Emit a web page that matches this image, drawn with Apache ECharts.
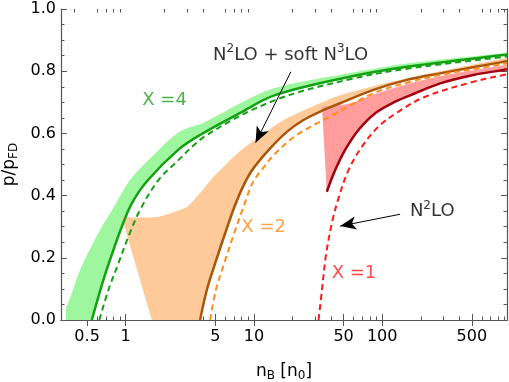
<!DOCTYPE html>
<html>
<head>
<meta charset="utf-8">
<title>p/pFD vs nB</title>
<script src="https://cdn.jsdelivr.net/npm/echarts@6/dist/echarts.min.js"></script>
<style>
html, body { margin: 0; padding: 0; background: #fff; }
#main { width: 509px; height: 382px; }
</style>
</head>
<body>
<div id="main"></div>
<script>
var font = 'DejaVu Sans';

// axis ticks (n_B in units of n_0, log scale)
var xMin = 0.313, xMax = 940;
var majorTicks = [0.5, 1, 5, 10, 50, 100, 500];
var minorTicks = [0.4, 0.6, 0.7, 0.8, 0.9, 2, 3, 4, 6, 7, 8, 9, 20, 30, 40, 60, 70, 80, 90,
                  200, 300, 400, 600, 700, 800, 900];

// X = 4 (green)
var greenSolid = [[0.544,0],[0.67,0.129],[0.802,0.225],[0.932,0.3],[1.116,0.375],[1.47,0.447],
  [2.563,0.547],[3.8,0.595],[7.81,0.666],[14.6,0.723],[56,0.782],[156,0.814],[879,0.852],[940,0.854]];
var greenDash = [[0.623,0],[0.733,0.0965],[0.877,0.182],[1.05,0.268],[1.295,0.354],[1.8,0.45],
  [2.43,0.504],[4.29,0.595],[14.6,0.707],[56,0.774],[156,0.808],[879,0.846],[940,0.848]];
var greenTop = [[0.341,0],[0.341,0.0386],[0.368,0.0707],[0.441,0.161],[0.631,0.289],[0.827,0.37],
  [1.082,0.45],[1.598,0.525],[2.6,0.604],[4.16,0.637],[7.81,0.697],[14.6,0.746],[56,0.794],[156,0.825],
  [879,0.858],[940,0.86]];

// X = 2 (orange)
var orangeSolid = [[3.8,0],[4.29,0.0965],[4.98,0.182],[5.96,0.279],[7.13,0.37],[8.39,0.437],[9.91,0.488],
  [13.38,0.552],[18.06,0.605],[24.3,0.643],[32.8,0.67],[47,0.697],[85.5,0.74],[156,0.772],[283,0.793],
  [879,0.83],[940,0.832]];
var orangeDash = [[4.55,0],[5.05,0.0965],[5.86,0.182],[7.01,0.279],[8.39,0.37],[9.73,0.44],[11.18,0.477],
  [15.1,0.541],[21.6,0.595],[32.8,0.638],[47,0.672],[85.5,0.729],[156,0.763],[283,0.788],[879,0.823],[940,0.825]];
var orangeTop = [[1.598,0],[0.932,0.33],[1.295,0.3296],[1.855,0.333],[2.428,0.349],[2.997,0.363],
  [3.8,0.408],[4.55,0.447],[5.45,0.482],[7.36,0.534],[9.91,0.576],[13.38,0.614],[18.06,0.6485],
  [32.8,0.697],[47,0.723],[85.1,0.752],[156,0.777],[283,0.8],[879,0.841],[940,0.844]];

// X = 1 (red)
var redSolid = [[37,0.4125],[43,0.482],[51.4,0.547],[65.3,0.611],[88.2,0.665],[126.3,0.702],[180.9,0.729],
  [283.5,0.761],[515,0.788],[884,0.804],[940,0.806]];
var redDash = [[31.9,0],[33.9,0.0965],[36.3,0.2035],[40.5,0.311],[45.6,0.391],[54.6,0.482],[69.4,0.557],
  [93.6,0.622],[134,0.67],[216.5,0.718],[515,0.766],[879,0.788],[940,0.79]];
var redTop = [[33.9,0.686],[54.6,0.695],[85.5,0.725],[156,0.758],[283,0.784],[879,0.818],[940,0.82]];

// annotations: [n, p, text, colour]
var notes = [
  [2.01, 0.706, '{t|X =4}', '#1ea01e'],
  [19.3, 0.852, '{t|N}{sup|2}{t|LO + soft N}{sup|3}{t|LO}', '#000'],
  [11.9, 0.299, '{t|X =2}', '#ff8c1a'],
  [60.2, 0.1495, '{t|X =1}', '#ff2020'],
  [245.5, 0.349, '{t|N}{sup|2}{t|LO}', '#000']
];
var arrows = [
  [[19.4, 0.798], [10.3, 0.57]],
  [[138, 0.34], [47, 0.302]]
];

var axisColor = '#555';
var SMOOTH = 0.35;

// filled region between an upper edge and a lower edge; edge ends (and listed
// indices of the upper edge) stay sharp, the rest is smoothed
function band(upper, lower, color, sharp) {
  return {
    type: 'custom', xAxisIndex: 0, yAxisIndex: 0, data: [0], silent: true, z: 1,
    renderItem: function (params, api) {
      var pts = [];
      function add(list, corners) {
        list.forEach(function (d, i) {
          var c = api.coord(d);
          pts.push(c);
          if (i === 0 || i === list.length - 1 || corners.indexOf(i) >= 0) pts.push([c[0], c[1]]);
        });
      }
      add(upper, sharp || []);
      add(lower.slice().reverse(), []);
      return {
        type: 'polygon',
        shape: { points: pts, smooth: SMOOTH },
        style: { fill: color }
      };
    }
  };
}
function curve(data, color, width, dashed) {
  return {
    type: 'line', xAxisIndex: 0, yAxisIndex: 0, data: data, showSymbol: false, silent: true,
    smooth: SMOOTH, z: 3,
    lineStyle: { color: color, width: width, type: dashed ? [6, 4] : 'solid' }
  };
}
function xAx(grid, pos, ticks, len, labels) {
  return {
    type: 'log', gridIndex: grid, position: pos, min: xMin, max: xMax,
    axisLine: { show: grid === 0, lineStyle: { color: axisColor, width: 1.2 } },
    axisTick: { inside: true, length: len, customValues: ticks, lineStyle: { color: axisColor } },
    axisLabel: {
      show: labels, customValues: ticks, fontSize: 16, fontFamily: font, color: '#000', margin: 9,
      formatter: function (v) { return String(parseFloat((+v).toPrecision(6))); }
    },
    splitLine: { show: false }, minorTick: { show: false }
  };
}
function yAx(pos, labels) {
  return {
    type: 'value', gridIndex: 0, position: pos, min: 0, max: 1, interval: 0.2,
    axisLine: { show: true, lineStyle: { color: axisColor, width: 1.2 } },
    axisTick: { inside: true, length: 6, lineStyle: { color: axisColor } },
    minorTick: { show: true, splitNumber: 4, length: 3.5, lineStyle: { color: axisColor } },
    axisLabel: {
      show: labels, fontSize: 16, fontFamily: font, color: '#000', margin: 5,
      formatter: function (v) { return v.toFixed(1); }
    },
    splitLine: { show: false }
  };
}

var xMain = xAx(0, 'bottom', majorTicks, 6, true);
xMain.name = '{n|n}{sub|B}{n| [n}{sub|0}{n|]}';
xMain.nameLocation = 'middle';
xMain.nameGap = 41;
xMain.nameTextStyle = {
  rich: {
    n: { fontSize: 17, fontFamily: font, color: '#000' },
    sub: { fontSize: 12, fontFamily: font, color: '#000', padding: [9, 0, 0, 0] }
  }
};
var yMain = yAx('left', true);
yMain.name = '{n|p/p}{sub|FD}';
yMain.nameLocation = 'middle';
yMain.nameRotate = 90;
yMain.nameGap = 40;
yMain.nameTextStyle = xMain.nameTextStyle;

var noteRich = {
  t: { fontSize: 18, fontFamily: font },
  sup: { fontSize: 12, fontFamily: font, padding: [0, 0, 12, 0] }
};

var option = {
  animation: false,
  backgroundColor: '#fff',
  grid: [
    { left: 61, right: 2, top: 9, bottom: 62, outerBoundsMode: 'none', containLabel: false },
    { left: 61, right: 2, top: 9, bottom: 62, outerBoundsMode: 'none', containLabel: false }
  ],
  xAxis: [
    xMain,
    xAx(0, 'top', majorTicks, 6, false),
    xAx(1, 'bottom', minorTicks, 3.5, false),
    xAx(1, 'top', minorTicks, 3.5, false)
  ],
  yAxis: [
    yMain,
    yAx('right', false),
    { type: 'value', gridIndex: 1, min: 0, max: 1, show: false }
  ],
  series: [
    band(greenTop, greenSolid, '#9ef79e', [1]),
    band(orangeTop, orangeSolid, '#ffca99', [1]),
    band(redTop, redSolid, '#ff9c9c', []),
    curve(greenSolid, '#14a014', 2.5, false),
    curve(greenDash, '#14a014', 2, true),
    curve(orangeSolid, '#a8560c', 2.5, false),
    curve(orangeDash, '#ff8c1a', 2, true),
    curve(redSolid, '#a00010', 2.5, false),
    curve(redDash, '#ff1a1a', 2, true),
    {
      type: 'scatter', xAxisIndex: 0, yAxisIndex: 0, symbolSize: 0, silent: true, z: 5,
      data: notes.map(function (a) {
        return {
          value: [a[0], a[1]],
          label: {
            show: true, position: [0, 0], align: 'center', verticalAlign: 'middle',
            formatter: a[2], color: a[3], rich: noteRich
          }
        };
      }),
      markLine: {
        silent: true, symbol: ['none', 'arrow'], symbolSize: 14,
        lineStyle: { color: '#000', width: 1, type: 'solid', opacity: 1 },
        label: { show: false },
        data: arrows.map(function (a) {
          return [
            { coord: a[0], symbol: 'none' },
            { coord: a[1], symbol: 'arrow', symbolSize: [10, 16], itemStyle: { color: '#000' } }
          ];
        })
      }
    }
  ]
};

var chart = echarts.init(document.getElementById('main'));
chart.setOption(option);
</script>
</body>
</html>
